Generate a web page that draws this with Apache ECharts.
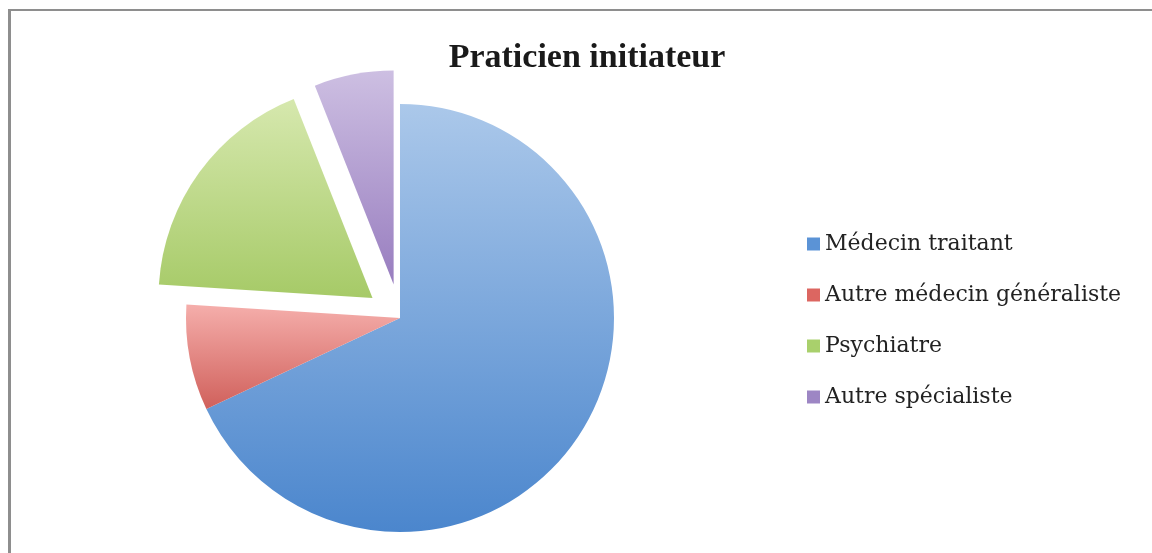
<!DOCTYPE html>
<html>
<head>
<meta charset="utf-8">
<script src="https://cdn.jsdelivr.net/npm/echarts@6/dist/echarts.min.js"></script>
<style>
  html, body { margin: 0; padding: 0; background: #fff; }
  #frame {
    position: absolute; left: 8px; top: 9px; width: 1200px; height: 600px;
    border-top: 2px solid #8e8e8e; border-left: 3px solid #8e8e8e;
  }
  #chart { position: absolute; left: 0; top: 0; width: 1152px; height: 553px; }
</style>
</head>
<body>
<div id="frame"></div>
<div id="chart"></div>
<script>
// Praticien initiateur - shares
const categories = ['Médecin traitant', 'Autre médecin généraliste', 'Psychiatre', 'Autre spécialiste'];
const values = [34, 4, 9, 3];
const exploded = [false, false, true, true];

const topColors = ['#abc8ea', '#f5aeab', '#d6e8ae', '#cdbfe2'];
const bottomColors = ['#4b86cd', '#d0605b', '#a6ca67', '#987dbf'];
const legendColors = ['#5b93d6', '#dc6661', '#a9d06c', '#9d86c4'];

const chart = echarts.init(document.getElementById('chart'));

const grad = (i) => new echarts.graphic.LinearGradient(0, 0, 0, 1, [
  { offset: 0, color: topColors[i] },
  { offset: 1, color: bottomColors[i] }
]);

chart.setOption({
  animation: false,
  title: {
    text: 'Praticien initiateur',
    left: 582,
    top: 36,
    textAlign: 'center',
    textStyle: { fontFamily: 'Liberation Serif', fontWeight: 'bold', fontSize: 34, color: '#1a1a1a' }
  },
  legend: {
    orient: 'vertical',
    left: 802,
    top: 228,
    itemWidth: 13,
    itemHeight: 13,
    itemGap: 29,
    itemTextGap: 8,
    icon: 'rect',
    selectedMode: false,
    textStyle: { fontFamily: 'DejaVu Serif', fontSize: 22, color: '#222' },
    data: categories.map((c, i) => ({ name: c, itemStyle: { color: legendColors[i] } }))
  },
  series: [{
    type: 'pie',
    center: [400, 318],
    radius: 214,
    startAngle: 90,
    clockwise: true,
    selectedMode: 'multiple',
    selectedOffset: 34,
    label: { show: false },
    labelLine: { show: false },
    emphasis: { disabled: true },
    itemStyle: { borderWidth: 0 },
    data: categories.map((c, i) => ({
      name: c,
      value: values[i],
      selected: exploded[i],
      itemStyle: { color: grad(i) }
    }))
  }]
});
</script>
</body>
</html>
